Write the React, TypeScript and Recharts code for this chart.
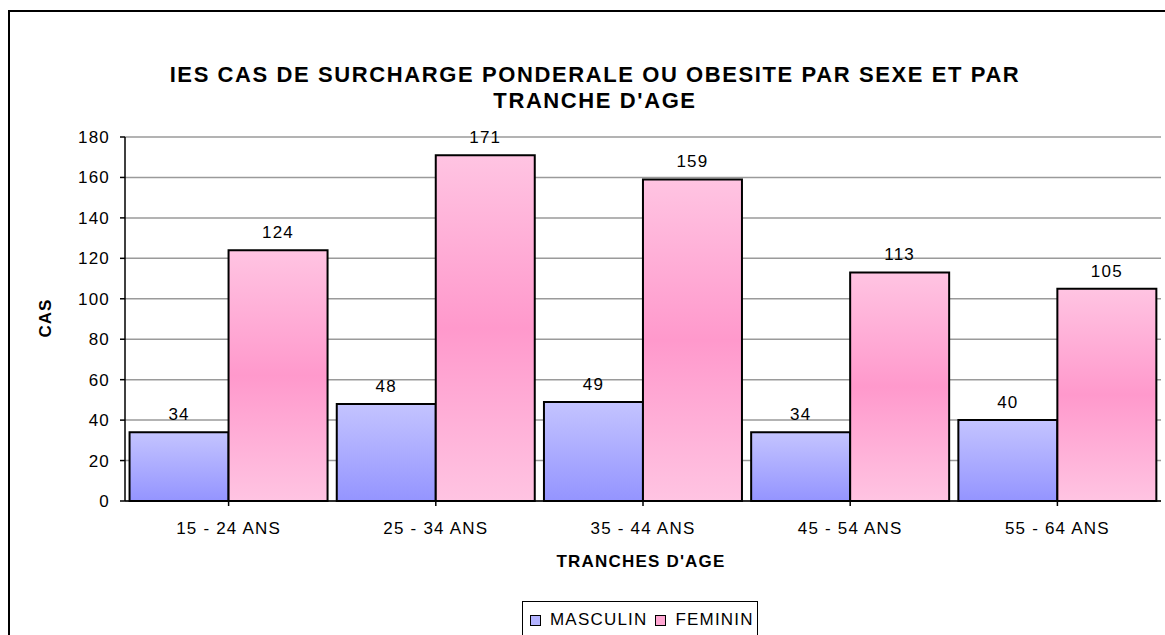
import React from "react";
import { BarChart, Bar, XAxis, YAxis, CartesianGrid, LabelList } from "recharts";

const ageGroups = ["15 - 24 ANS", "25 - 34 ANS", "35 - 44 ANS", "45 - 54 ANS", "55 - 64 ANS"];
const masculin = [34, 48, 49, 34, 40];
const feminin = [124, 171, 159, 113, 105];
const yTicks = [0, 20, 40, 60, 80, 100, 120, 140, 160, 180];

const seriesNames = ["MASCULIN", "FEMININ"];
const swatch = ["#b3b3ff", "#ffa6d2"];

const data = ageGroups.map((age, i) => ({ age, masculin: masculin[i], feminin: feminin[i] }));

const FONT = "'Liberation Sans', Arial, sans-serif";
const tickStyle = { fontSize: 17, fill: "#000", fontFamily: FONT, letterSpacing: 1.2 };

function TopLabel(props: any) {
  const { x, y, width, value } = props;
  return (
    <text
      x={Number(x) + Number(width) / 2}
      y={Number(y) - 12}
      textAnchor="middle"
      fontSize={17}
      fontFamily={FONT}
      letterSpacing={1.2}
      fill="#000"
    >
      {value}
    </text>
  );
}

export default function App() {
  return (
    <div
      style={{
        position: "absolute",
        left: 0,
        top: 0,
        width: 1165,
        height: 635,
        overflow: "hidden",
        background: "#fff",
        fontFamily: FONT,
      }}
    >
      {/* outer chart frame, runs off the right and bottom like the source image */}
      <div
        style={{
          position: "absolute",
          left: 8,
          top: 10,
          width: 1200,
          height: 700,
          border: "2px solid #000",
        }}
      />

      <div
        style={{
          position: "absolute",
          left: 0,
          top: 62,
          width: 1190,
          textAlign: "center",
          fontSize: 22,
          fontWeight: "bold",
          lineHeight: "26px",
          letterSpacing: 1.6,
        }}
      >
        IES CAS DE SURCHARGE PONDERALE OU OBESITE PAR SEXE ET PAR
        <br />
        TRANCHE D'AGE
      </div>

      <div style={{ position: "absolute", left: 0, top: 0 }}>
        <BarChart
          width={1165}
          height={635}
          data={data}
          margin={{ top: 137, right: 4, left: 65, bottom: 104 }}
          barCategoryGap="2.2%"
          barGap={0}
        >
          <defs>
            <linearGradient id="gradMasc" x1="0" y1="0" x2="0" y2="1">
              <stop offset="0%" stopColor="#c4c4ff" />
              <stop offset="100%" stopColor="#9494ff" />
            </linearGradient>
            <linearGradient id="gradFem" x1="0" y1="0" x2="0" y2="1">
              <stop offset="0%" stopColor="#ffc4e2" />
              <stop offset="50%" stopColor="#ff99cc" />
              <stop offset="100%" stopColor="#ffc4e2" />
            </linearGradient>
          </defs>
          <CartesianGrid vertical={false} stroke="#9a9a9a" strokeWidth={1.5} />
          <XAxis
            dataKey="age"
            height={30}
            tick={tickStyle}
            tickSize={5}
            tickMargin={16}
            axisLine={{ stroke: "#000", strokeWidth: 1.5 }}
            tickLine={{ stroke: "#000", strokeWidth: 1.5 }}
          />
          <YAxis
            width={60}
            domain={[0, 180]}
            ticks={yTicks}
            interval={0}
            tick={tickStyle}
            tickSize={5}
            tickMargin={10}
            axisLine={{ stroke: "#000", strokeWidth: 1.5 }}
            tickLine={{ stroke: "#000", strokeWidth: 1.5 }}
          />
          <YAxis
            yAxisId="frame"
            orientation="right"
            width={0}
            domain={[0, 180]}
            tick={false}
            tickLine={false}
            axisLine={{ stroke: "#9a9a9a", strokeWidth: 1.5 }}
          />
          <Bar
            dataKey="masculin"
            name={seriesNames[0]}
            fill="url(#gradMasc)"
            stroke="#000"
            strokeWidth={2}
            isAnimationActive={false}
          >
            <LabelList dataKey="masculin" content={TopLabel} />
          </Bar>
          <Bar
            dataKey="feminin"
            name={seriesNames[1]}
            fill="url(#gradFem)"
            stroke="#000"
            strokeWidth={2}
            isAnimationActive={false}
          >
            <LabelList dataKey="feminin" content={TopLabel} />
          </Bar>
        </BarChart>
      </div>

      <div
        style={{
          position: "absolute",
          left: 46,
          top: 318,
          transform: "translate(-50%, -50%) rotate(-90deg)",
          fontSize: 17,
          fontWeight: "bold",
          letterSpacing: 1,
          whiteSpace: "nowrap",
        }}
      >
        CAS
      </div>

      <div
        style={{
          position: "absolute",
          left: 641,
          top: 562,
          transform: "translate(-50%, -50%)",
          fontSize: 17,
          fontWeight: "bold",
          letterSpacing: 1.2,
          whiteSpace: "nowrap",
        }}
      >
        TRANCHES D'AGE
      </div>

      <div
        style={{
          position: "absolute",
          left: 522,
          top: 601,
          width: 236,
          height: 60,
          border: "1.5px solid #000",
          display: "flex",
          alignItems: "flex-start",
          paddingTop: 8,
          paddingLeft: 7,
          boxSizing: "border-box",
          fontSize: 17,
          letterSpacing: 1.2,
          lineHeight: "20px",
        }}
      >
        {seriesNames.map((name, i) => (
          <div key={name} style={{ display: "flex", alignItems: "center", marginRight: 8 }}>
            <span
              style={{
                display: "inline-block",
                width: 9,
                height: 9,
                background: swatch[i],
                border: "1px solid #000",
                marginRight: 9,
              }}
            />
            <span>{name}</span>
          </div>
        ))}
      </div>
    </div>
  );
}
